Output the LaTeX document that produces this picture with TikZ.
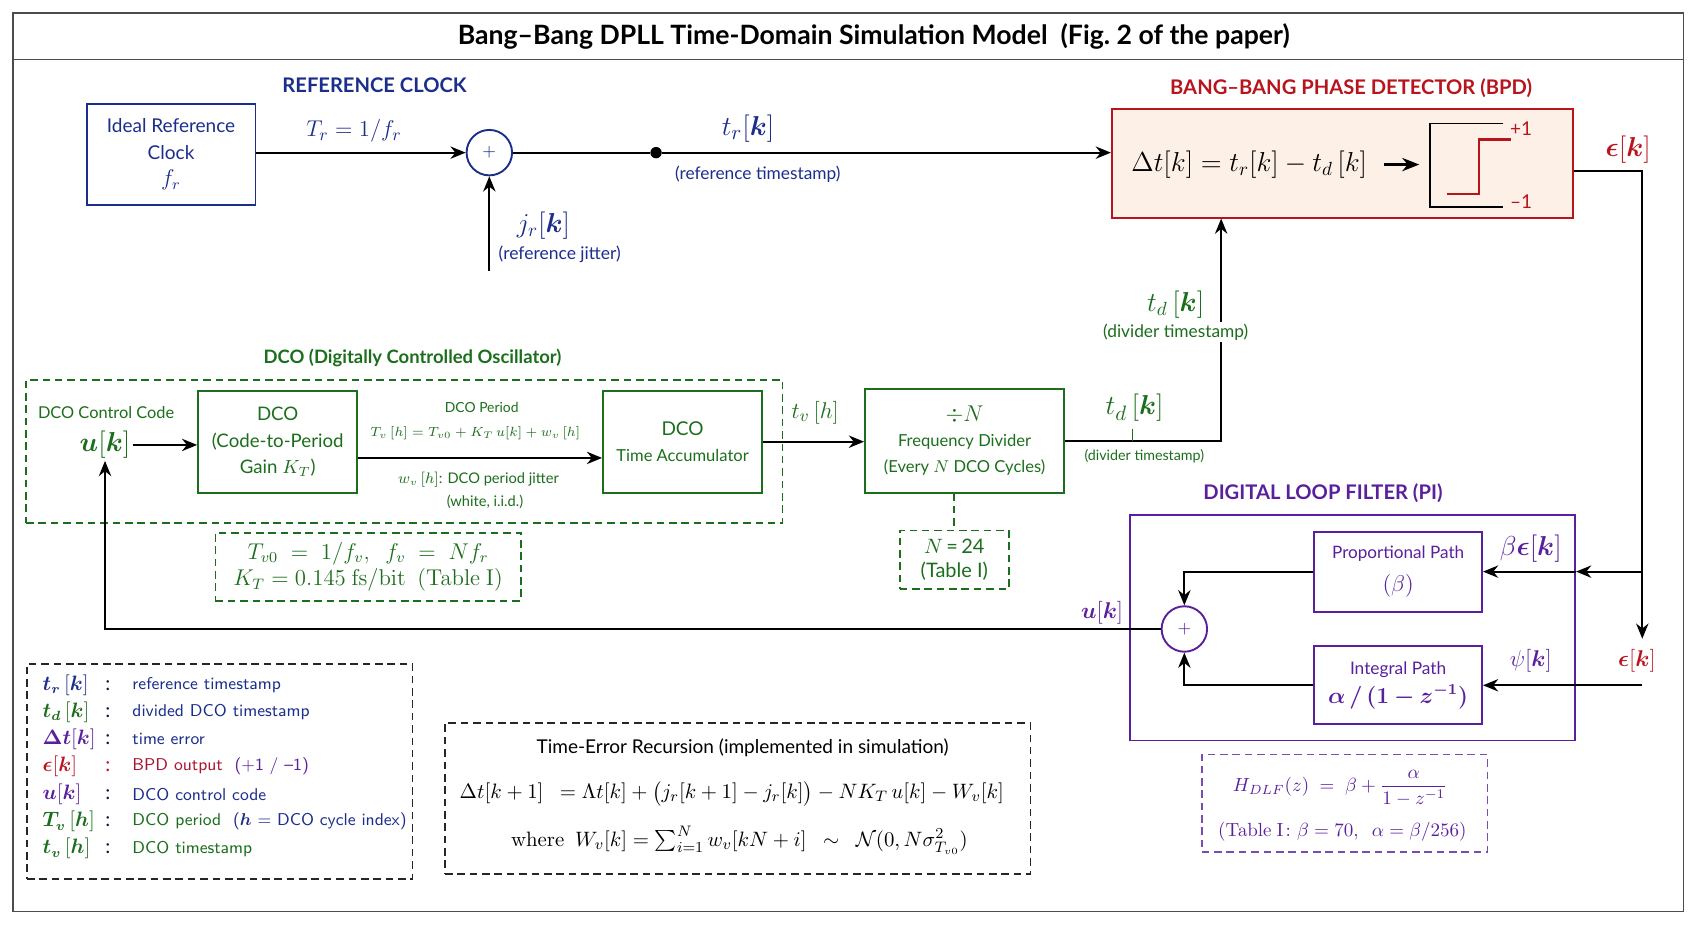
\documentclass[tikz,border=0pt]{standalone}
\usepackage{amsmath,amssymb,bm}
\usepackage[no-math]{fontspec}
\setmainfont{Lato}
\usetikzlibrary{arrows.meta,calc}
\definecolor{cblue}{HTML}{1C2E8C}
\definecolor{cred}{HTML}{B8141E}
\definecolor{cgreen}{HTML}{1B6E1B}
\definecolor{cpurple}{HTML}{5A1F9C}
\definecolor{cpeach}{HTML}{FDF0E7}
\begin{document}
\begin{tikzpicture}[x=0.02cm,y=-0.02cm,
  arr/.style={-{Stealth[length=8pt,width=6.5pt]},line width=1pt},
  blk/.style={draw,line width=1pt,inner sep=0pt,align=center,font=\fontsize{10}{14}\selectfont},
  sumc/.style={circle,draw,line width=1pt,minimum size=0.84cm,inner sep=0pt,font=\fontsize{9}{10}\selectfont},
  head/.style={font=\bfseries\fontsize{10.6}{13}\selectfont},
  dbox/.style={draw,line width=0.9pt,dash pattern=on 4pt off 2.5pt,inner sep=0pt,align=center},
  lbl/.style={inner sep=1pt,align=center},
  mlbl/.style={inner sep=1pt,font=\fontsize{13}{15}\selectfont},
  biglbl/.style={inner sep=1pt,font=\fontsize{14.5}{16}\selectfont},
  smalltxt/.style={inner sep=1pt,align=center,font=\fontsize{7.7}{9}\selectfont},
  leg/.style={anchor=west,inner sep=0pt,font=\sffamily\fontsize{9}{11}\selectfont},
  legm/.style={anchor=west,inner sep=0pt,font=\fontsize{10.5}{12}\selectfont},
]
\useasboundingbox (0,0) rectangle (1562,859);
\draw[line width=0.8pt,black!70] (12,12) rectangle (1555,842);
\draw[line width=0.8pt,black!70] (12,55) -- (1555,55);
\node[font=\bfseries\fontsize{14}{16}\selectfont] (title) at (807,34) {Bang–Bang DPLL Time-Domain Simulation Model\ \ (Fig.~2 of the paper)};

% ---------- reference clock
\node[head,text=cblue] (refhead) at (346,79) {REFERENCE CLOCK};
\node[blk,draw=cblue,text=cblue,minimum width=3.12cm,minimum height=1.86cm] (ref) at (158,142.5) {Ideal Reference\\Clock\\{\fontsize{12}{14}\selectfont$f_r$}};
\node[sumc,draw=cblue,text=cblue] (sum1) at (452,141) {$+$};
\node[circle,fill=black,inner sep=0pt,minimum size=6pt] (dot) at (606,141) {};
\coordinate (jin) at (452,250);

% ---------- BPD
\node[head,text=cred] (bpdhead) at (1248,81) {BANG–BANG PHASE DETECTOR (BPD)};
\node[blk,draw=cred,fill=cpeach,minimum width=8.52cm,minimum height=2cm] (bpd) at (1240,151) {};
\node[inner sep=0pt,font=\fontsize{14.5}{16}\selectfont] (bpdeq) at (1154,152) {$\Delta t[k] = t_r[k] - t_d\,[k]$};
\coordinate (sgnin) at (1311,152);
\draw[-{Stealth[length=9pt,width=7pt]},line width=1.3pt] ([xshift=0.3cm]bpdeq.east) -- (sgnin);
\draw[line width=0.9pt] (1388,114) -- (1321,114) -- (1321,191) -- (1388,191);
\draw[cred,line width=1.3pt] (1337,179) -- (1366,179) -- (1366,129) -- (1396,129);
\node[lbl,text=cred,font=\fontsize{10}{12}\selectfont] (p1) at (1405,119) {+1};
\node[lbl,text=cred,font=\fontsize{10}{12}\selectfont] (m1) at (1405,186) {–1};

\draw[arr] (ref.east |- sum1) -- (sum1.west);
\draw[line width=1pt] (sum1.east) -- (dot);
\draw[arr] (dot) -- (dot -| bpd.west);
\draw[arr] (jin) -- (sum1.south);
\node[mlbl,text=cblue] (trlbl) at (327,121) {$T_r = 1/f_r$};
\node[biglbl,font=\fontsize{15.5}{17}\selectfont,text=cblue] (tr) at (691,119) {$t_r[\bm k]$};
\node[lbl,text=cblue,font=\fontsize{9.1}{11}\selectfont] (trtxt) at (700,161) {(reference timestamp)};
\node[biglbl,text=cblue] (jr) at (502,208) {$j_r[\bm k]$};
\node[lbl,text=cblue,font=\fontsize{9.2}{11}\selectfont] (jrtxt) at (517,235) {(reference jitter)};

\node[biglbl,font=\fontsize{15}{17}\selectfont,text=cred] (eps1) at (1504,138) {$\bm\epsilon[\bm k]$};
\coordinate (eR) at (1517,158);
\coordinate (eD) at (1517,590);
\draw[arr] (eR -| bpd.east) -- (eR) -- (eD);

% ---------- loop filter
\node[head,text=cpurple] (dlfhead) at (1222,456) {DIGITAL LOOP FILTER (PI)};
\node[blk,draw=cpurple,minimum width=8.22cm,minimum height=4.16cm] (dlf) at (1249.5,580) {};
\node[blk,draw=cpurple,text=cpurple,minimum width=3.1cm,minimum height=1.48cm,font=\fontsize{9}{14}\selectfont] (prop) at (1291.5,528) {Proportional Path\\[3pt]{\fontsize{12}{14}\selectfont$(\beta)$}};
\node[blk,draw=cpurple,text=cpurple,minimum width=3.1cm,minimum height=1.44cm,font=\fontsize{9.1}{14}\selectfont] (integ) at (1291.5,633) {Integral Path\\[1pt]{\fontsize{12}{14}\selectfont$\bm{\alpha\,/\,(1-z^{-1})}$}};
\node[sumc,draw=cpurple,text=cpurple] (sum2) at (1094,581) {$+$};
\coordinate (br) at (1517,528);
\coordinate (eI) at (1517,633);
\draw[arr] (br) -- (br -| dlf.east);
\draw[arr] (br -| dlf.east) -- (prop.east);
\draw[arr] (eI) -- (integ.east);
\draw[arr] (prop.west) -| (sum2.north);
\draw[arr] (integ.west) -| (sum2.south);
\node[biglbl,font=\fontsize{14}{16}\selectfont,text=cpurple] (beps) at (1414,507) {$\beta\bm\epsilon[\bm k]$};
\node[mlbl,text=cpurple] (psi) at (1414,610) {$\psi[\bm k]$};
\node[mlbl,text=cred] (eps2) at (1512,610) {$\bm\epsilon[\bm k]$};
\node[mlbl,text=cpurple] (ulbl) at (1018,566) {$\bm u[\bm k]$};

\node[dbox,draw=cpurple!80,minimum width=5.28cm,minimum height=1.8cm] (hdlf) at (1242,742) {};
\node[inner sep=0pt,text=cpurple,font=\fontsize{10.2}{12}\selectfont] (hdlfeq) at (1238,728) {$H_{DLF}(z) \;=\; \beta + \dfrac{\alpha}{1-z^{-1}}$};
\node[inner sep=0pt,text=cpurple,font=\fontsize{10.3}{13}\selectfont] (hdlftab) at (1240,768) {$(\mathrm{Table\ I}\colon \beta = 70,\ \ \alpha = \beta/256)$};

% ---------- DCO
\node[head,font=\bfseries\fontsize{9.7}{12}\selectfont,text=cgreen] (dcohead) at (381,331) {DCO (Digitally Controlled Oscillator)};
\node[dbox,draw=cgreen,minimum width=13.98cm,minimum height=2.64cm] (dcoreg) at (373.5,417) {};
\node[lbl,text=cgreen,font=\fontsize{8.6}{10}\selectfont] (dcc) at (98,381) {DCO Control Code};
\node[inner sep=1pt,text=cgreen,font=\fontsize{13.5}{16}\selectfont] (uk) at (97,411) {$\bm u[\bm k]$};
\node[blk,draw=cgreen,text=cgreen,minimum width=2.94cm,minimum height=1.88cm,font=\fontsize{9.8}{13.8}\selectfont] (dco) at (256.5,408) {DCO\\(Code-to-Period\\Gain $K_T$)};
\node[blk,draw=cgreen,text=cgreen,minimum width=2.94cm,minimum height=1.88cm,font=\fontsize{8.7}{14}\selectfont] (acc) at (630.5,408) {{\fontsize{10}{14}\selectfont DCO}\\Time Accumulator};
\node[blk,draw=cgreen,text=cgreen,minimum width=3.68cm,minimum height=1.92cm,font=\fontsize{8.7}{13.5}\selectfont] (div) at (891,407) {{\fontsize{12}{14}\selectfont$\div N$}\\Frequency Divider\\(Every $N$ DCO Cycles)};

\draw[arr] (uk.east) -- (uk.east -| dco.west);
\draw[arr] ([yshift=-0.3cm]dco.east) -- ([yshift=-0.3cm]acc.west);
\draw[arr] (acc.east) -- (acc.east -| div.west);
\coordinate (tdc) at (1128,407);
\draw[arr] (div.east) -- (tdc) -- (tdc |- bpd.south);
\draw[cgreen,line width=0.8pt] (1046,396) -- (1046,407);
\draw[arr] (sum2.west) -| (uk.south);

\node[smalltxt,font=\fontsize{7.3}{9}\selectfont,text=cgreen] (dper) at (445,376) {DCO Period};
\node[smalltxt,font=\fontsize{7.2}{9}\selectfont,text=cgreen] (dpereq) at (439,400) {$T_v\,[h] = T_{v0} + K_T\,u[k] + w_v\,[h]$};
\node[smalltxt,text=cgreen] (wv) at (442,443) {$w_v\,[h]$: DCO period jitter};
\node[smalltxt,text=cgreen] (wvw) at (448,464) {(white, i.i.d.)};
\node[mlbl,text=cgreen] (tv) at (753,381) {$t_v\,[h]$};
\node[biglbl,font=\fontsize{15}{17}\selectfont,text=cgreen] (td1) at (1048,377) {$t_d\,[\bm k]$};
\node[smalltxt,font=\fontsize{7.5}{9}\selectfont,text=cgreen] (td1t) at (1057,421) {(divider timestamp)};
\node[biglbl,text=cgreen] (td2) at (1086,281) {$t_d\,[\bm k]$};
\node[lbl,fill=white,text=cgreen,font=\fontsize{9.1}{11}\selectfont] (td2t) at (1086,307) {(divider timestamp)};

\node[dbox,draw=cgreen,text=cgreen,minimum width=2.02cm,minimum height=1.08cm,font=\fontsize{10.5}{13}\selectfont] (nbox) at (881.5,517) {$N$\,=\,24\\(Table I)};
\draw[cgreen,line width=0.9pt,dash pattern=on 4pt off 2.5pt] (nbox.north |- div.south) -- (nbox.north);
\node[dbox,draw=cgreen,text=cgreen,minimum width=5.64cm,minimum height=1.26cm,font=\fontsize{12}{14}\selectfont] (param) at (340,523.5) {$T_{v0} \;=\; 1/f_v,\ \ f_v \;=\; N f_r$\\$K_T = 0.145\ \mathrm{fs/bit}\ \ (\mathrm{Table\ I})$};

% ---------- legend
\node[dbox,draw=black!85,minimum width=7.12cm,minimum height=3.98cm] (legend) at (203,712.5) {};
\node[legm,text=cblue] (l1s) at (39,633) {$\bm{t_r}\,[\bm k]$};
\node[legm,text=cblue!50!black] (l1c) at (97,633) {:};
\node[leg,text=cblue] (l1t) at (122,633) {reference timestamp};
\node[legm,text=cgreen] (l2s) at (39,658) {$\bm{t_d}\,[\bm k]$};
\node[legm,text=cblue!50!black] (l2c) at (97,658) {:};
\node[leg,text=cblue] (l2t) at (122,658) {divided DCO timestamp};
\node[legm,text=cpurple] (l3s) at (39,683) {$\bm{\Delta t}[\bm k]$};
\node[legm,text=cblue!50!black] (l3c) at (97,683) {:};
\node[leg,text=cblue] (l3t) at (122,683) {time error};
\node[legm,text=cred] (l4s) at (39,708) {$\bm\epsilon[\bm k]$};
\node[legm,text=cred] (l4c) at (97,708) {:};
\node[leg] (l4t) at (122,708) {{\color{cred!85!cpurple}BPD output}\ \ {\color{cpurple}(+1 / –1)}};
\node[legm,text=cpurple] (l5s) at (39,734) {$\bm u[\bm k]$};
\node[legm,text=cblue!50!black] (l5c) at (97,734) {:};
\node[leg,text=cblue] (l5t) at (122,734) {DCO control code};
\node[legm,text=cgreen] (l6s) at (39,759) {$\bm{T_v}\,[\bm h]$};
\node[legm,text=cblue!50!black] (l6c) at (97,759) {:};
\node[leg] (l6t) at (122,759) {{\color{cgreen}DCO period}\ \ {\color{cblue}({\boldmath$h$} $=$ DCO cycle index)}};
\node[legm,text=cgreen] (l7s) at (39,784) {$\bm{t_v}\,[\bm h]$};
\node[legm,text=cblue!50!black] (l7c) at (97,784) {:};
\node[leg,text=cgreen] (l7t) at (122,784) {DCO timestamp};

% ---------- recursion
\node[dbox,draw=black!85,minimum width=10.82cm,minimum height=2.78cm] (recur) at (681.5,737.5) {};
\node[inner sep=0pt,font=\fontsize{10}{12}\selectfont] (rtitle) at (686,691) {Time-Error Recursion (implemented in simulation)};
\node[inner sep=0pt,font=\fontsize{10.8}{13}\selectfont] (req1) at (676,733) {$\Delta t[k+1] \ \ = \Lambda t[k] + \bigl(j_r[k+1] - j_r[k]\bigr) - N K_T\, u[k] - W_v[k]$};
\node[inner sep=0pt,font=\fontsize{11}{13}\selectfont] (req2) at (683,776) {$\mathrm{where}\ \ W_v[k] = \sum_{i=1}^{N} w_v[kN+i] \ \ \sim\ \ \mathcal{N}(0, N\sigma^2_{T_{v0}})$};
\end{tikzpicture}
\end{document}
